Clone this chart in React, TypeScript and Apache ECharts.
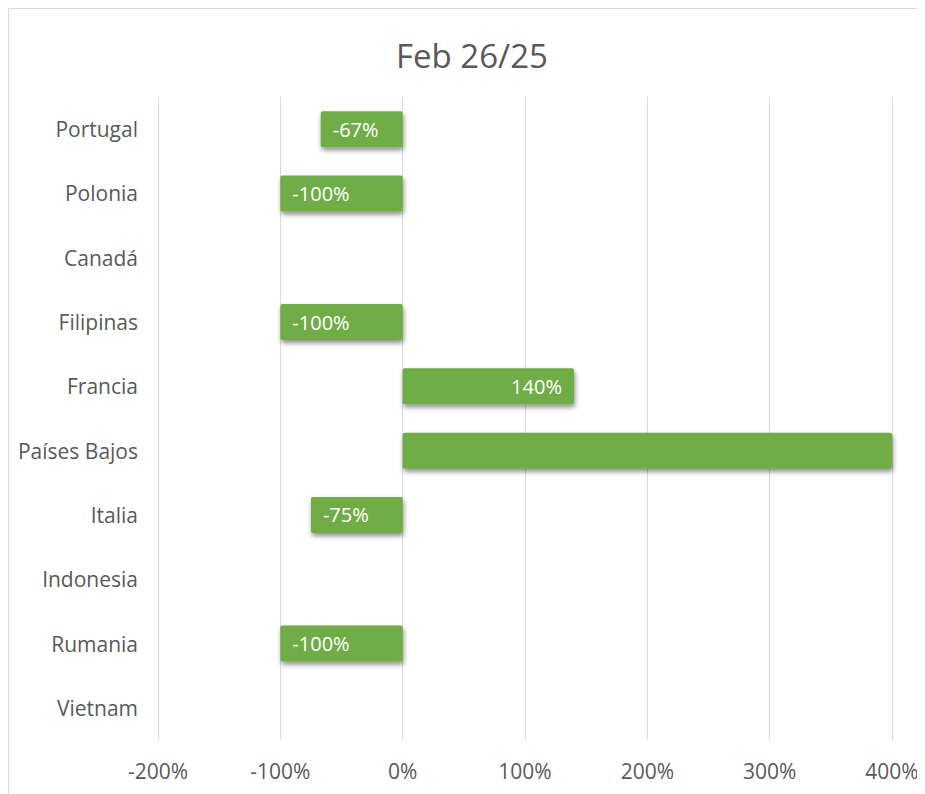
import React, { useEffect, useRef } from "react";
import * as echarts from "echarts";

const categories = ["Portugal", "Polonia", "Canadá", "Filipinas", "Francia", "Países Bajos", "Italia", "Indonesia", "Rumania", "Vietnam"];
const values: (number | null)[] = [-67, -100, null, -100, 140, 450, -75, null, -100, null];
const xTicks = [-200, -100, 0, 100, 200, 300, 400];
const titleText = "Feb 26/25";

const FONT = "Open Sans";
const GREY = "#595959";

export default function App() {
  const ref = useRef<HTMLDivElement>(null);
  useEffect(() => {
    if (!ref.current) return;
    const chart = echarts.init(ref.current, undefined, { renderer: "svg" });
    const data = values.map((v) => {
      if (v === null) return { value: null as any };
      const clipped = v > xTicks[xTicks.length - 1];
      return {
        value: v,
        label: {
          show: !clipped,
          position: v < 0 ? "insideLeft" : "insideRight",
          distance: 12,
        },
      };
    });
    chart.setOption({
      animation: false,
      graphic: [
        {
          type: "rect",
          shape: { x: 0.5, y: 0.5, width: 2000, height: 2000 },
          style: { fill: "none", stroke: "#d9d9d9", lineWidth: 1 },
          silent: true,
        },
        {
          type: "text",
          x: 464,
          y: 47,
          silent: true,
          style: {
            text: titleText,
            fontFamily: FONT,
            fontSize: 33,
            fill: GREY,
            align: "center",
            verticalAlign: "middle",
          },
        },
      ],
      grid: { left: 150, right: 33, top: 89, bottom: 54, containLabel: false },
      xAxis: {
        type: "value",
        min: xTicks[0],
        max: xTicks[xTicks.length - 1],
        interval: 100,
        axisLine: { show: false },
        axisTick: { show: false },
        splitLine: { show: true, lineStyle: { color: "#d9d9d9", width: 1 } },
        axisLabel: {
          formatter: (v: number) => `${v}%`,
          fontFamily: FONT,
          fontSize: 21,
          color: GREY,
          margin: 20,
        },
      },
      yAxis: {
        type: "category",
        data: categories,
        inverse: true,
        axisLine: { show: false },
        axisTick: { show: false },
        splitLine: { show: false },
        axisLabel: { fontFamily: FONT, fontSize: 21, color: GREY, margin: 20 },
      },
      series: [
        {
          type: "bar",
          data,
          barWidth: 36,
          itemStyle: {
            color: "#70AD47",
            borderRadius: 2,
            shadowColor: "rgba(0,0,0,0.45)",
            shadowBlur: 5,
            shadowOffsetX: 1,
            shadowOffsetY: 3,
          },
          label: {
            show: true,
            color: "#ffffff",
            fontFamily: FONT,
            fontSize: 20,
            formatter: (p: any) => `${p.value}%`,
          },
        },
      ],
    });
    return () => chart.dispose();
  }, []);
  return <div ref={ref} style={{ width: 917, height: 786 }} />;
}
